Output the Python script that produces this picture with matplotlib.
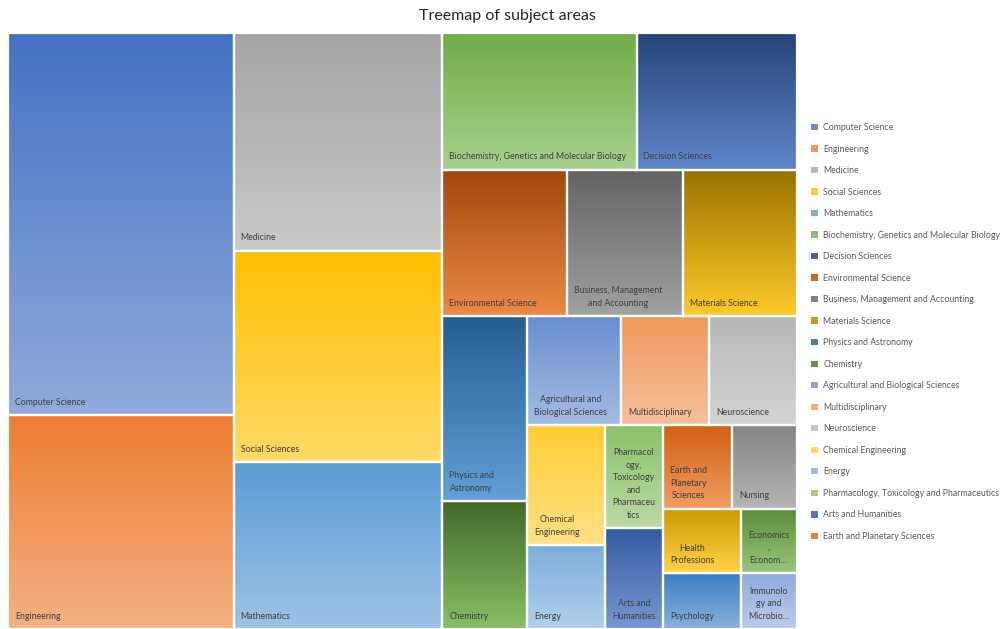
import colorsys
import numpy as np
import matplotlib
matplotlib.use("Agg")
import matplotlib.pyplot as plt
from matplotlib.colors import to_rgb
from matplotlib.patches import Rectangle, Patch

plt.rcParams['font.family'] = ['Lato', 'DejaVu Sans']

#subject areas, largest first
subjects = ["Computer Science", "Engineering", "Medicine", "Social Sciences", "Mathematics",
            "Biochemistry, Genetics and Molecular Biology", "Decision Sciences",
            "Environmental Science", "Business, Management and Accounting", "Materials Science",
            "Physics and Astronomy", "Chemistry", "Agricultural and Biological Sciences",
            "Multidisciplinary", "Neuroscience", "Chemical Engineering", "Energy",
            "Pharmacology, Toxicology and Pharmaceutics", "Arts and Humanities",
            "Earth and Planetary Sciences", "Nursing", "Health Professions", "Psychology",
            "Economics, Econometrics and Finance", "Immunology and Microbiology"]

documents = [857, 479, 451, 437, 346,
             264, 218,
             181, 169, 165,
             156, 108, 102,
             96, 95, 93, 65,
             59, 58,
             57, 54, 50, 43,
             36, 31]

#text shown inside the boxes (Excel wraps / cuts the long ones)
box_labels = ["Computer Science", "Engineering", "Medicine", "Social Sciences", "Mathematics",
              "Biochemistry, Genetics and Molecular Biology", "Decision Sciences",
              "Environmental Science", "Business, Management\nand Accounting", "Materials Science",
              "Physics and\nAstronomy", "Chemistry", "Agricultural and\nBiological Sciences",
              "Multidisciplinary", "Neuroscience", "Chemical\nEngineering", "Energy",
              "Pharmacol\nogy,\nToxicology\nand\nPharmaceu\ntics", "Arts and\nHumanities",
              "Earth and\nPlanetary\nSciences", "Nursing", "Health\nProfessions", "Psychology",
              "Economics\n,\nEconom...", "Immunolo\ngy and\nMicrobio..."]

#office theme colours in series order
colors = ["#4472C4", "#ED7D31", "#A5A5A5", "#FFC000", "#5B9BD5", "#70AD47",
          "#264478", "#9E480E", "#636363", "#997300", "#255E91", "#43682B",
          "#698ED0", "#F1975A", "#B7B7B7", "#FFCD33", "#7CAFDD", "#8CC168",
          "#335AA1", "#D26012", "#848484", "#CC9A00", "#3C7DC4", "#5A8A39",
          "#8FAADC"]

#how the boxes are grouped into strips, filled from the left / top
strips = [("col", [0, 1]),
          ("col", [2, 3, 4]),
          ("row", [5, 6]),
          ("row", [7, 8, 9]),
          ("col", [10, 11]),
          ("row", [12, 13, 14]),
          ("col", [15, 16]),
          ("col", [17, 18]),
          ("row", [19, 20]),
          ("row", [21, 23]),
          ("row", [22, 24])]

W, H = 789.0, 596.0


def layout(values, strips, x0, y0, w, h):
    rects = {}
    remaining = float(sum(values))
    for orient, idxs in strips:
        s = float(sum(values[i] for i in idxs))
        if orient == "col":
            sw = w * s / remaining
            yy = y0
            for i in idxs:
                ih = h * values[i] / s
                rects[i] = (x0, yy, sw, ih)
                yy += ih
            x0 += sw
            w -= sw
        else:
            sh = h * s / remaining
            xx = x0
            for i in idxs:
                iw = w * values[i] / s
                rects[i] = (xx, y0, iw, sh)
                xx += iw
            y0 += sh
            h -= sh
        remaining -= s
    return rects


def lighter(c):
    #same as excel "lighter 40%"
    r, g, b = to_rgb(c)
    hh, l, s = colorsys.rgb_to_hls(r, g, b)
    return colorsys.hls_to_rgb(hh, l * 0.6 + 0.4, s)


rects = layout(documents, strips, 0.0, 0.0, W, H)

fig = plt.figure(figsize=(10.02, 6.29), dpi=100)
ax = fig.add_axes([8 / 1002, 0.0, W / 1002, H / 629])

t = np.linspace(0, 1, 128)[:, None, None]
for i, (x, y, w, h) in rects.items():
    top = np.array(to_rgb(colors[i]))
    bottom = np.array(lighter(colors[i]))
    grad = top * (1 - t) + bottom * t
    ax.imshow(grad, extent=(x, x + w, y + h, y), aspect='auto', interpolation='bilinear', zorder=1)
    ax.add_patch(Rectangle((x, y), w, h, fill=False, edgecolor='white', lw=1.6,
                           clip_on=False, zorder=2))
    ax.annotate(box_labels[i], xy=(x, y + h), xytext=(5, 6), textcoords='offset points',
                ha='left', va='bottom', multialignment='center', linespacing=1.5,
                fontsize=6.3, color='#404040', zorder=3)

ax.set_xlim(0, W)
ax.set_ylim(H, 0)
ax.axis('off')

fig.text(507 / 1002, 1 - 16 / 629, "Treemap of subject areas", ha='center', va='center',
         fontsize=11.5, color='#262626')

#excel only lists the first 20 series; swatches show the middle of the gradient
handles = []
for i in range(20):
    mid = (np.array(to_rgb(colors[i])) + np.array(lighter(colors[i]))) / 2
    handles.append(Patch(facecolor=mid, edgecolor='none', label=subjects[i]))
fig.legend(handles=handles, loc='center left', bbox_to_anchor=(807 / 1002, 1 - 332 / 629),
           frameon=False, fontsize=6.3, labelcolor='#595959', handlelength=0.75,
           handleheight=0.75, handletextpad=0.6, labelspacing=1.43, borderpad=0)

fig.savefig("out.png", dpi=100, facecolor='white')
